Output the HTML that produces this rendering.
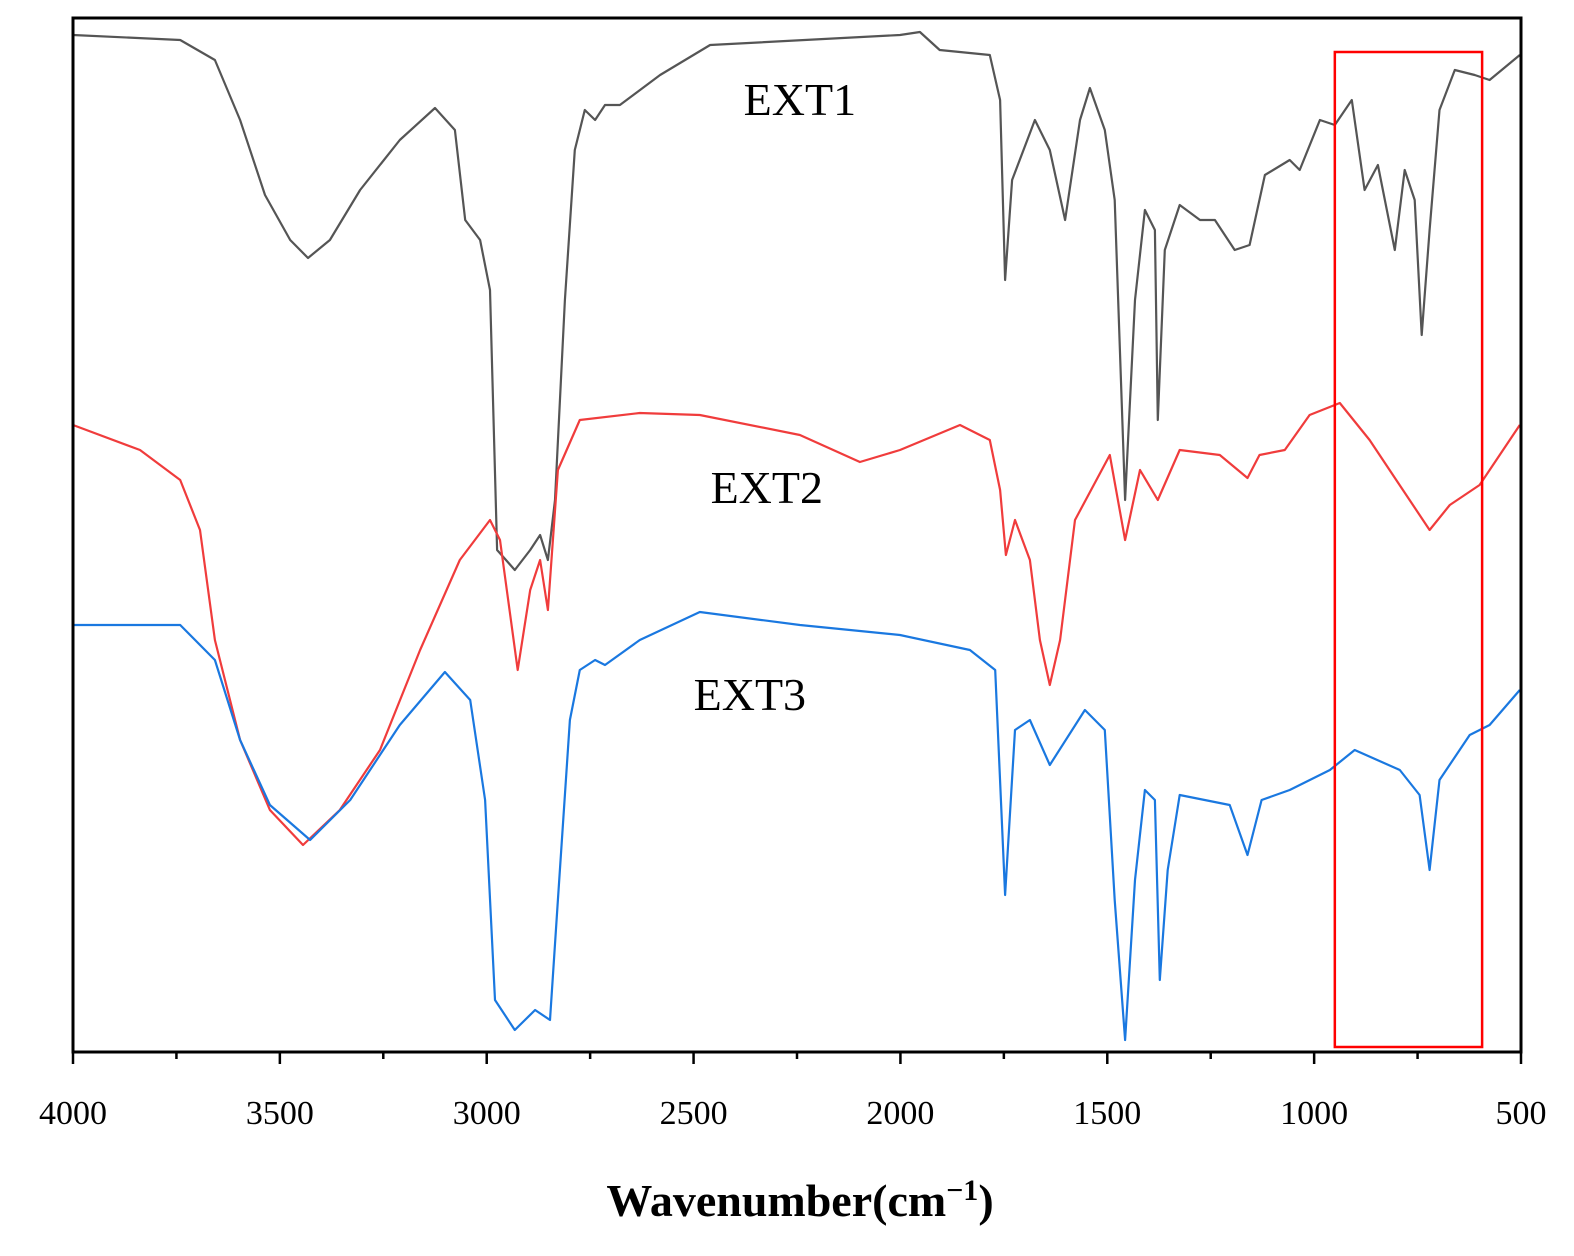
<!DOCTYPE html>
<html><head><meta charset="utf-8">
<style>
html,body{margin:0;padding:0;background:#fff;}
svg{display:block;}
text{font-family:"Liberation Serif",serif;}
</style></head>
<body>
<svg id="chart" width="1574" height="1256" viewBox="0 0 1574 1256" xmlns="http://www.w3.org/2000/svg">
<g id="series"></g>
<g id="axes"></g>
</svg>
<script>
const xTicks=[4000,3500,3000,2500,2000,1500,1000,500];
const xMinor=[3750,3250,2750,2250,1750,1250,750];
const ext1W=[4000,3741,3657,3596,3536,3475,3432,3379,3306,3210,3125,3077,3052,3016,2992,2975,2932,2895,2871,2852,2835,2811,2787,2763,2738,2714,2678,2581,2460,2001,1953,1905,1784,1759,1747,1730,1675,1639,1602,1566,1542,1506,1482,1457,1433,1409,1385,1378,1361,1325,1276,1240,1192,1156,1119,1059,1035,986,950,909,878,846,805,781,757,740,721,697,660,612,576,503];
const ext1V=[1017,1012,992,932,857,812,794,812,862,912,944,922,832,812,762,502,482,502,517,492,552,752,902,942,932,947,947,977,1007,1017,1020,1002,997,952,772,872,932,902,832,932,964,922,852,552,752,842,822,632,802,847,832,832,802,807,877,892,882,932,927,952,862,887,802,882,852,717,822,942,982,977,972,997];
const ext2W=[4000,3838,3741,3693,3657,3596,3524,3444,3355,3258,3161,3065,2992,2968,2925,2895,2871,2852,2828,2775,2630,2485,2243,2098,2001,1856,1784,1759,1745,1723,1687,1663,1639,1614,1578,1494,1457,1421,1378,1325,1228,1161,1132,1071,1011,938,866,721,672,600,503];
const ext2V=[627,602,572,522,412,312,242,207,242,302,402,492,532,512,382,462,492,442,582,632,639,637,617,590,602,627,612,562,497,532,492,412,367,412,532,597,512,582,552,602,597,574,597,602,637,649,612,522,547,567,627];
const ext3W=[4000,3741,3657,3596,3524,3427,3330,3210,3101,3040,3004,2980,2932,2883,2847,2828,2799,2775,2738,2714,2630,2485,2243,2001,1832,1771,1747,1723,1687,1639,1554,1506,1482,1457,1433,1409,1385,1373,1354,1325,1204,1161,1127,1059,962,902,793,745,721,697,624,576,503];
const ext3V=[427,427,392,312,247,212,252,327,380,352,252,52,22,42,32,152,332,382,392,387,412,440,427,417,402,382,157,322,332,287,342,322,152,12,172,262,252,72,182,257,247,197,252,262,282,302,282,257,182,272,317,327,362];
const seriesNames=["EXT1","EXT2","EXT3"];
const seriesColors=["#555555","#f03c3c","#1a78e0"];
const boxRange=[950,594];
const boxV=[5,1000];
const labelW=[2243,2323,2364];
const labelV=[937,549,342];

const L=73,R=1521,T=18,B=1052;
const xs=w=>L+(4000-w)/3500*(R-L);
const ys=v=>B-v/1034*(B-T);
const NS="http://www.w3.org/2000/svg";
function mk(tag,attrs,parent){const e=document.createElementNS(NS,tag);for(const k in attrs)e.setAttribute(k,attrs[k]);parent.appendChild(e);return e;}
const sg=document.getElementById('series'),ag=document.getElementById('axes');
const W=[ext1W,ext2W,ext3W],V=[ext1V,ext2V,ext3V];
for(let s=0;s<3;s++){
  const d=W[s].map((w,i)=>(i?'L':'M')+xs(w).toFixed(1)+','+ys(V[s][i]).toFixed(1)).join(' ');
  const p=mk('path',{d:d,fill:'none',stroke:seriesColors[s],'stroke-width':2.2,'stroke-linejoin':'round'},sg);
  
  
  const t=mk('text',{x:xs(labelW[s]),y:ys(labelV[s]),'font-size':46,'text-anchor':'middle'},sg);
  t.textContent=seriesNames[s];
  
  
}
const box=mk('rect',{x:xs(boxRange[0]),y:ys(boxV[1]),width:xs(boxRange[1])-xs(boxRange[0]),height:ys(boxV[0])-ys(boxV[1]),fill:'none',stroke:'#ff0000','stroke-width':2.5},sg);


const fr=mk('rect',{x:L,y:T,width:R-L,height:B-T,fill:'none',stroke:'#000','stroke-width':3},ag);


xTicks.forEach(w=>{
  const tk=mk('line',{x1:xs(w),x2:xs(w),y1:B,y2:B+12,stroke:'#000','stroke-width':2.5},ag);
  
  
  const t=mk('text',{x:xs(w),y:1124,'font-size':34,'text-anchor':'middle'},ag);
  t.textContent=w;
  
  
});
xMinor.forEach(w=>{
  const tk=mk('line',{x1:xs(w),x2:xs(w),y1:B,y2:B+7,stroke:'#000','stroke-width':2.5},ag);
  
  
});
const xt=mk('text',{x:800,y:1216,'font-size':46,'font-weight':'bold','text-anchor':'middle'},ag);
xt.innerHTML='Wavenumber(cm<tspan dy="-16" font-size="30">−1</tspan><tspan dy="16">)</tspan>';


</script>
</body></html>
